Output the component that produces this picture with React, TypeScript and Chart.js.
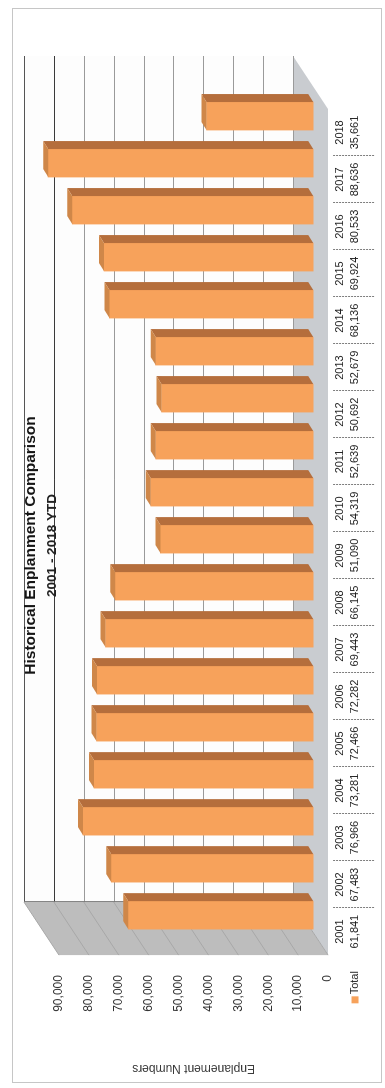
import React, { useEffect, useRef } from "react";
import Chart from "chart.js/auto";

// ---- data ----
const YEARS = ["2001", "2002", "2003", "2004", "2005", "2006", "2007", "2008", "2009", "2010", "2011", "2012", "2013", "2014", "2015", "2016", "2017", "2018"];
const TOTALS = [61841, 67483, 76966, 73281, 72466, 72282, 69443, 66145, 51090, 54319, 52639, 50692, 52679, 68136, 69924, 80533, 88636, 35661];
const SERIES_LABEL = "Total";
const VALUE_MIN = 0;
const VALUE_MAX = 90000;
const VALUE_STEP = 10000;
const TITLE = "Historical Enplanment Comparison";
const SUBTITLE = "2001 - 2018 YTD";
const VALUE_AXIS_TITLE = "Enplanement Numbers";

// ---- style ----
const W = 1075;
const H = 370;
const FONT = "'Liberation Sans', Arial, sans-serif";
const ORANGE = "#F7A25B";
const SIDE = "#B56E3C";
const TOPFACE = "#CF8749";
const TICK_SIZE = 11;
const TICK_LH = 1.36;
const TICK_PAD = 4.5;
const WALL = { dx: 53, dy: -35 };
const BAR_DEPTH = { dx: 8, dy: -5 };

const fmt = (n: number) => n.toLocaleString("en-US");

function poly(ctx: CanvasRenderingContext2D, pts: number[][]) {
  ctx.beginPath();
  ctx.moveTo(pts[0][0], pts[0][1]);
  for (let i = 1; i < pts.length; i++) ctx.lineTo(pts[i][0], pts[i][1]);
  ctx.closePath();
  ctx.fill();
}

const wallsPlugin = {
  id: "walls3d",
  beforeDraw(chart: any) {
    const { ctx, chartArea: a } = chart;
    const ys = chart.scales.y;
    const F = (v: number) => ys.getPixelForValue(v);
    const L = a.left;
    const R = a.right;
    const f0 = F(VALUE_MIN);
    const fM = F(VALUE_MAX);
    const { dx, dy } = WALL;
    ctx.save();
    ctx.fillStyle = "#ffffff";
    ctx.fillRect(0, 0, chart.width, chart.height);
    // back wall
    ctx.fillStyle = "#fdfdfd";
    ctx.fillRect(L + dx, fM + dy, R - L, f0 - fM);
    // side wall
    ctx.fillStyle = "#bdbdbd";
    poly(ctx, [[L, f0], [L + dx, f0 + dy], [L + dx, fM + dy], [L, fM]]);
    // floor
    ctx.fillStyle = "#c9ccd0";
    poly(ctx, [[L, f0], [R, f0], [R + dx, f0 + dy], [L + dx, f0 + dy]]);
    ctx.lineWidth = 1;
    for (let v = VALUE_MIN; v <= VALUE_MAX; v += VALUE_STEP) {
      const p = Math.round(F(v) + dy) + 0.5;
      ctx.strokeStyle = v === VALUE_MAX ? "#555" : v === VALUE_MAX - VALUE_STEP ? "#3a3a3a" : "#9a9a9a";
      ctx.beginPath();
      ctx.moveTo(L + dx, p);
      ctx.lineTo(R + dx, p);
      ctx.stroke();
      ctx.strokeStyle = "#a8a8a8";
      ctx.beginPath();
      ctx.moveTo(L, F(v));
      ctx.lineTo(L + dx, F(v) + dy);
      ctx.stroke();
    }
    ctx.strokeStyle = "#777";
    ctx.beginPath();
    ctx.moveTo(L + dx + 0.5, fM + dy);
    ctx.lineTo(L + dx + 0.5, f0 + dy);
    ctx.stroke();
    ctx.restore();
  },
};

const barFacesPlugin = {
  id: "barFaces",
  afterDatasetsDraw(chart: any) {
    const { ctx } = chart;
    const meta = chart.getDatasetMeta(0);
    ctx.save();
    meta.data.forEach((el: any) => {
      const { x, y, base, width } = el.getProps(["x", "y", "base", "width"], true);
      const l = x - width / 2;
      const r = x + width / 2;
      const t = Math.min(y, base);
      const b = Math.max(y, base);
      const { dx, dy } = BAR_DEPTH;
      ctx.fillStyle = SIDE;
      poly(ctx, [[r, b], [r + dx, b + dy], [r + dx, t + dy], [r, t]]);
      ctx.fillStyle = TOPFACE;
      poly(ctx, [[l, t], [l + dx, t + dy], [r + dx, t + dy], [r, t]]);
    });
    ctx.restore();
  },
};

const tablePlugin = {
  id: "dataTable",
  afterDraw(chart: any) {
    const { ctx, chartArea: a } = chart;
    const xs = chart.scales.x;
    const n = xs.ticks.length;
    ctx.save();
    ctx.strokeStyle = "#7d7d7d";
    ctx.lineWidth = 1;
    ctx.setLineDash([2, 1]);
    for (let i = 1; i < n; i++) {
      const px = Math.round((xs.getPixelForTick(i - 1) + xs.getPixelForTick(i)) / 2) + 0.5;
      ctx.beginPath();
      ctx.moveTo(px, xs.top + 5);
      ctx.lineTo(px, xs.top + 47);
      ctx.stroke();
    }
    ctx.setLineDash([]);
    const lh = TICK_SIZE * TICK_LH;
    const row2 = xs.top + TICK_PAD + lh * 1.5;
    ctx.font = `${TICK_SIZE}px ${FONT}`;
    ctx.fillStyle = "#222";
    ctx.textAlign = "right";
    ctx.textBaseline = "middle";
    const tx = a.left - 16;
    ctx.fillText(SERIES_LABEL, tx, row2);
    const w = ctx.measureText(SERIES_LABEL).width;
    ctx.fillStyle = ORANGE;
    ctx.fillRect(tx - w - 9, row2 - 3.5, 7, 7);
    ctx.restore();
  },
};

export default function App() {
  const ref = useRef<HTMLCanvasElement>(null);

  useEffect(() => {
    const canvas = ref.current;
    if (!canvas) return;
    Chart.defaults.font.family = FONT;
    const chart = new Chart(canvas, {
      type: "bar",
      data: {
        labels: YEARS.map((yr, i) => [yr, fmt(TOTALS[i])]),
        datasets: [
          {
            label: SERIES_LABEL,
            data: TOTALS.map((v, i) => ({ x: i, y: v })),
            xAxisID: "xb",
            yAxisID: "yb",
            backgroundColor: ORANGE,
            borderWidth: 0,
            barThickness: 28,
            clip: false,
          } as any,
        ],
      },
      options: {
        responsive: false,
        animation: false,
        devicePixelRatio: 1,
        layout: { padding: { left: 0, right: 0, top: 0, bottom: 15 } },
        plugins: {
          legend: { display: false },
          tooltip: { enabled: false },
          title: {
            display: true,
            text: TITLE,
            color: "#151515",
            font: { size: 15.5, weight: "bold", lineHeight: 1 },
            padding: { top: 11, bottom: 0 },
          },
          subtitle: {
            display: true,
            text: SUBTITLE,
            color: "#222",
            font: { size: 13.5, weight: "bold", lineHeight: 1 },
            padding: { top: 7, bottom: 0 },
          },
        },
        scales: {
          x: {
            type: "category",
            position: "bottom",
            offset: true,
            grid: { display: false, drawTicks: false },
            border: { display: false },
            ticks: {
              color: "#222",
              font: { size: TICK_SIZE, lineHeight: TICK_LH },
              padding: TICK_PAD,
              maxRotation: 0,
              minRotation: 0,
              autoSkip: false,
            },
          },
          y: {
            type: "linear",
            position: "left",
            min: VALUE_MIN,
            max: VALUE_MAX,
            grid: { display: false, drawTicks: false },
            border: { display: false },
            ticks: {
              stepSize: VALUE_STEP,
              color: "#333",
              font: { size: 12 },
              padding: 20,
              callback: (v: any) => fmt(Number(v)),
            },
            title: {
              display: true,
              text: VALUE_AXIS_TITLE,
              color: "#3a3a3a",
              font: { size: 12, lineHeight: 1.2 },
              padding: { top: 7.8, bottom: 29 },
            },
          },
          yr: {
            type: "linear",
            position: "right",
            min: 0,
            max: 1,
            grid: { display: false, drawTicks: false },
            border: { display: false },
            ticks: { display: false },
            title: { display: true, text: "", font: { size: 10, lineHeight: 1 }, padding: { top: 0, bottom: 91 } },
          },
          xb: { type: "linear", display: false, offset: false, min: -0.85, max: 17.15 },
          yb: { type: "linear", display: false, min: -5000, max: 85000 },
        },
      } as any,
      plugins: [wallsPlugin, barFacesPlugin, tablePlugin],
    });
    return () => chart.destroy();
  }, []);

  return (
    <div style={{ position: "absolute", left: 12, top: 8, width: H, height: W, overflow: "hidden", background: "#fff" }}>
      <div
        style={{
          position: "absolute",
          left: 0,
          top: 0,
          width: W,
          height: H,
          transformOrigin: "0 0",
          transform: `translate(0px, ${W}px) rotate(-90deg)`,
        }}
      >
        <canvas ref={ref} width={W} height={H} style={{ display: "block" }} />
      </div>
      <div
        style={{
          position: "absolute",
          left: 0,
          top: 0,
          right: 0,
          bottom: 0,
          border: "1px solid #c6c6c6",
          boxSizing: "border-box",
          pointerEvents: "none",
        }}
      />
    </div>
  );
}
